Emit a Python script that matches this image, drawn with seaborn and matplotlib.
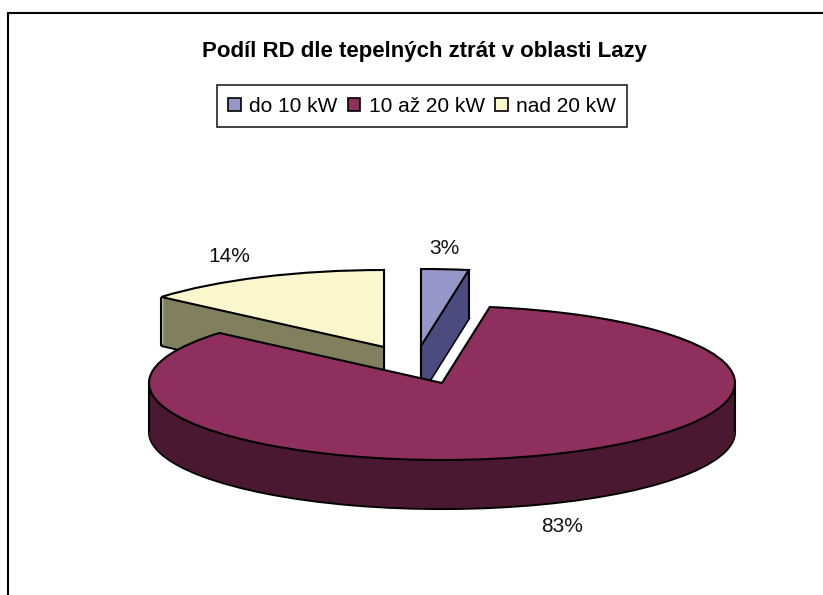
import numpy as np
import pandas as pd
import matplotlib
matplotlib.use('Agg')
import matplotlib.pyplot as plt
from matplotlib.patches import Patch
import seaborn as sns

categories = ['do 10 kW', '10 až 20 kW', 'nad 20 kW']
values = [2.6, 83.4, 13.7]
title = 'Podíl RD dle tepelných ztrát v oblasti Lazy'

top_colors = ['#9696C8', '#8F2F5E', '#FBF7CC']
side_colors = ['#4B4B80', '#4A1830', '#80805F']

# pixel layout of the picture
W, H = 823, 595
CX, CY = 442, 383
RX, RY = 293, 77
DEPTH = 49
# slice shift in pixels, blue and yellow are pulled out of the pie
shift = [(-21, -37), (0, 0), (-58, -36)]
# drawing order, back slices first
zbase = [100, 200, 0]
label_pos = [(444, 248), (562, 527), (229, 257)]

sns.set_theme(style='white')
plt.rcParams['font.family'] = ['Liberation Sans', 'DejaVu Sans']

df = pd.DataFrame({'cat': categories, 'val': values})


def to_x(px):
    return (px - CX) / RX


def to_y(py):
    return (CY - py) / RY


def draw_layer(ax, colors, dy, edge, z_add):
    wedges, _ = ax.pie(df['val'], colors=colors, startangle=90, counterclock=False, radius=1,
                       wedgeprops={'linewidth': 1.5 if edge else 0, 'edgecolor': 'black' if edge else 'none'})
    for w, s, zb in zip(wedges, shift, zbase):
        w.set_center((to_x(CX + s[0]), to_y(CY + s[1] + dy)))
        w.set_zorder(zb + z_add)
    return wedges


def main():
    fig, ax = plt.subplots(figsize=(W / 100, H / 100), dpi=100)
    fig.subplots_adjust(0, 0, 1, 1)

    # side walls as a stack of dark pies, then the top face
    draw_layer(ax, side_colors, DEPTH, True, 0)
    for d in range(DEPTH - 1, 0, -1):
        draw_layer(ax, side_colors, d, False, DEPTH - d)
    wedges = draw_layer(ax, top_colors, 0, True, DEPTH + 10)

    # vertical edges of the walls
    drop = DEPTH / RY
    for w, zb in zip(wedges, zbase):
        cx, cy = w.center
        a1, a2 = np.deg2rad(w.theta1), np.deg2rad(w.theta2)
        if zb == 200:
            xs, ys = [cx - 1, cx + 1], [cy, cy]
        else:
            xs = [cx, cx + np.cos(a1), cx + np.cos(a2)]
            ys = [cy, cy + np.sin(a1), cy + np.sin(a2)]
        for x, y in zip(xs, ys):
            ax.plot([x, x], [y, y - drop], color='black', lw=1.5, zorder=zb + DEPTH + 5,
                    solid_capstyle='butt')

    ax.set_aspect('auto')
    ax.set_xlim(to_x(0), to_x(W))
    ax.set_ylim(to_y(H), to_y(0))
    ax.set_axis_off()

    for v, pos in zip(values, label_pos):
        ax.text(to_x(pos[0]), to_y(pos[1]), f'{v:.0f}%', ha='center', va='center',
                fontsize=15, color='#111111', zorder=500)

    ax.text(to_x(424), to_y(51), title, ha='center', va='center', fontsize=16,
            fontweight='bold', color='black', zorder=500)

    # chart area border, only top and left are in the picture
    ax.plot([to_x(8), to_x(8)], [to_y(595), to_y(13)], color='black', lw=1.5, zorder=500)
    ax.plot([to_x(8), to_x(W)], [to_y(13), to_y(13)], color='black', lw=1.5, zorder=500)

    handles = [Patch(facecolor=c, edgecolor='black', linewidth=1.2) for c in top_colors]
    leg = fig.legend(handles, categories, ncol=3, loc='center', bbox_to_anchor=(422 / W, 1 - 106 / H),
                     fontsize=15, frameon=True, fancybox=False, edgecolor='#222222', framealpha=1,
                     handlelength=0.6, handleheight=0.6, handletextpad=0.4, columnspacing=0.5,
                     borderpad=0.55, borderaxespad=0, labelcolor='black')
    leg.get_frame().set_linewidth(1.2)

    plt.savefig('out.png', dpi=100)


if __name__ == "__main__":
    main()
